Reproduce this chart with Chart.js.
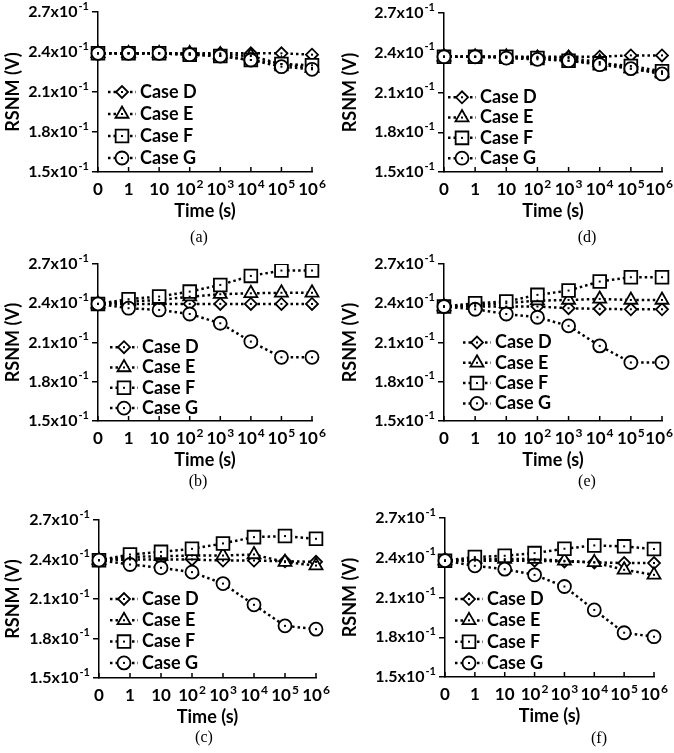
<!DOCTYPE html>
<html>
<head>
<meta charset="utf-8">
<script src="https://cdn.jsdelivr.net/npm/chart.js@4.4.0/dist/chart.umd.min.js"></script>
<style>
    body { margin: 0; background: #fff; }
    #wrap { position: relative; width: 674px; height: 753px; }
    .panel { position: absolute; width: 337px; height: 240px; }
    .cap { position: absolute; width: 60px; margin-left: -30px; text-align: center;
           font-family: "Liberation Serif", "Times New Roman", serif; font-size: 16px; line-height: 18px; }
</style>
</head>
<body>
<div id="wrap">
    <div class="panel" style="left:0;top:0"><canvas id="chartA"></canvas></div>
    <div class="panel" style="left:337px;top:0"><canvas id="chartD"></canvas></div>
    <div class="panel" style="left:0;top:240px"><canvas id="chartB"></canvas></div>
    <div class="panel" style="left:337px;top:240px"><canvas id="chartE"></canvas></div>
    <div class="panel" style="left:0;top:500px"><canvas id="chartC"></canvas></div>
    <div class="panel" style="left:337px;top:500px"><canvas id="chartF"></canvas></div>
    <div class="cap" style="left:199px;top:228px">(a)</div>
    <div class="cap" style="left:587px;top:228px">(d)</div>
    <div class="cap" style="left:198px;top:472px">(b)</div>
    <div class="cap" style="left:587px;top:472px">(e)</div>
    <div class="cap" style="left:204px;top:728px">(c)</div>
    <div class="cap" style="left:599px;top:729px">(f)</div>
</div>
<script>
// x categories (base^exponent) and y ticks
const timeLabels = ['0', '1', '10', '10^2', '10^3', '10^4', '10^5', '10^6'];
const yTicks = [0.15, 0.18, 0.21, 0.24, 0.27];
const caseNames = ['Case D', 'Case E', 'Case F', 'Case G'];

// RSNM (V)
const aD = [0.239, 0.239, 0.239, 0.239, 0.239, 0.239, 0.239, 0.238];
const aE = [0.239, 0.239, 0.239, 0.239, 0.238, 0.237, 0.231, 0.228];
const aF = [0.239, 0.239, 0.239, 0.238, 0.237, 0.234, 0.231, 0.230];
const aG = [0.239, 0.239, 0.239, 0.238, 0.237, 0.234, 0.229, 0.227];

const bD = [0.2395, 0.2395, 0.2395, 0.2395, 0.2395, 0.2395, 0.2395, 0.2395];
const bE = [0.2395, 0.2413, 0.2425, 0.245, 0.2469, 0.2476, 0.248, 0.248];
const bF = [0.2395, 0.2431, 0.2451, 0.2489, 0.254, 0.2609, 0.265, 0.265];
const bG = [0.2395, 0.2362, 0.2349, 0.2318, 0.2247, 0.2107, 0.1987, 0.1987];

const cD = [0.2395, 0.24, 0.24, 0.24, 0.2392, 0.2392, 0.2387, 0.2382];
const cE = [0.2395, 0.242, 0.2425, 0.243, 0.243, 0.2438, 0.238, 0.2354];
const cF = [0.2395, 0.2438, 0.2458, 0.2481, 0.2522, 0.257, 0.2578, 0.2557];
const cG = [0.2395, 0.2362, 0.2337, 0.2304, 0.2217, 0.2056, 0.1896, 0.1871];

const dD = [0.237, 0.237, 0.237, 0.237, 0.237, 0.237, 0.238, 0.238];
const dE = [0.237, 0.237, 0.237, 0.236, 0.236, 0.233, 0.228, 0.225];
const dF = [0.237, 0.237, 0.237, 0.236, 0.234, 0.232, 0.230, 0.226];
const dG = [0.237, 0.237, 0.236, 0.235, 0.234, 0.231, 0.228, 0.224];

const eD = [0.2375, 0.2375, 0.2375, 0.2375, 0.2362, 0.2357, 0.2354, 0.2354];
const eE = [0.2375, 0.2385, 0.24, 0.242, 0.2425, 0.2433, 0.2425, 0.2425];
const eF = [0.2375, 0.24, 0.2413, 0.2464, 0.2497, 0.2566, 0.2599, 0.2599];
const eG = [0.2375, 0.2354, 0.2318, 0.2293, 0.2227, 0.2074, 0.1947, 0.1947];

const fD = [0.2378, 0.2378, 0.2378, 0.2378, 0.2372, 0.2365, 0.236, 0.236];
const fE = [0.2378, 0.239, 0.239, 0.239, 0.2377, 0.2365, 0.2309, 0.2271];
const fF = [0.2378, 0.2405, 0.2415, 0.2435, 0.2468, 0.2493, 0.2486, 0.2466];
const fG = [0.2378, 0.2339, 0.2314, 0.2271, 0.2183, 0.2006, 0.1834, 0.1804];

const fontFam = 'Lato, "Open Sans", sans-serif';
const markers = [
    { style: 'rectRot', radius: 6 },
    { style: 'triangle', radius: 7.5 },
    { style: 'rect', radius: 9 },
    { style: 'circle', radius: 6.5 }
];

// base text plus a raised exponent; keeps the label inside the canvas
function drawSup(ctx, base, sup, x, y, align, size, supSize) {
    ctx.font = 'bold ' + size + 'px ' + fontFam;
    const wb = ctx.measureText(base).width;
    ctx.font = 'bold ' + supSize + 'px ' + fontFam;
    const ws = sup ? ctx.measureText(sup).width + 1 : 0;
    let sx = x;
    if (align === 'right') sx = x - wb - ws;
    if (align === 'center') sx = x - (wb + ws) / 2;
    const maxX = ctx.canvas.width - 1;
    if (sx + wb + ws > maxX) sx = maxX - wb - ws;
    ctx.textAlign = 'left';
    ctx.textBaseline = 'middle';
    ctx.font = 'bold ' + size + 'px ' + fontFam;
    ctx.fillText(base, sx, y);
    if (sup) {
        ctx.font = 'bold ' + supSize + 'px ' + fontFam;
        ctx.fillText(sup, sx + wb + 1, y - 6);
    }
}

const extras = {
    id: 'extras',
    afterDatasetsDraw(chart) {
        const ctx = chart.ctx;
        ctx.save();
        ctx.fillStyle = '#000';
        chart.data.datasets.forEach((ds, i) => {
            chart.getDatasetMeta(i).data.forEach(pt => {
                ctx.fillRect(pt.x - 1, pt.y - 1, 2, 2);
            });
        });
        ctx.restore();
    },
    afterDraw(chart, args, opts) {
        const ctx = chart.ctx;
        const xs = chart.scales.x, ys = chart.scales.y;
        const area = chart.chartArea;
        ctx.save();
        ctx.fillStyle = '#000';
        // y tick labels
        yTicks.forEach(v => {
            drawSup(ctx, (v * 10).toFixed(1) + 'x10', '-1', xs.left - 9, ys.getPixelForValue(v), 'right', 16, 11);
        });
        // x tick marks point inward, labels below
        ctx.strokeStyle = '#000';
        ctx.lineWidth = 1.5;
        timeLabels.forEach((lab, i) => {
            const px = xs.getPixelForTick(i);
            ctx.beginPath();
            ctx.moveTo(px, area.bottom);
            ctx.lineTo(px, area.bottom - 5);
            ctx.stroke();
            const parts = lab.split('^');
            drawSup(ctx, parts[0], parts[1], px, area.bottom + 18, 'center', 17, 12);
        });
        // legend inside the plot
        chart.data.datasets.forEach((ds, i) => {
            const lx = area.left + opts.legX;
            const ly = area.top + area.height * opts.legY + i * opts.legStep;
            ctx.strokeStyle = '#000';
            ctx.lineWidth = 2.5;
            ctx.setLineDash([2.5, 3]);
            ctx.beginPath();
            ctx.moveTo(lx, ly);
            ctx.lineTo(lx + 28, ly);
            ctx.stroke();
            ctx.setLineDash([]);
            ctx.fillStyle = '#fff';
            ctx.lineWidth = 1.8;
            Chart.helpers.drawPoint(ctx, { pointStyle: markers[i].style, radius: markers[i].radius, borderWidth: 1.8, rotation: 0 }, lx + 14, ly);
            ctx.fillStyle = '#000';
            ctx.fillRect(lx + 13, ly - 1, 2, 2);
            ctx.font = 'bold 18px ' + fontFam;
            ctx.textAlign = 'left';
            ctx.textBaseline = 'middle';
            ctx.fillText(ds.label, lx + 32, ly);
        });
        ctx.restore();
    }
};

function gerarPainel(id, series, box, leg) {
    const ctx = document.getElementById(id).getContext('2d');
    const canvasH = 240;
    const xAxisH = 50;
    const datasets = series.map((vals, i) => ({
        label: caseNames[i],
        data: vals,
        borderColor: '#000',
        borderWidth: 2.5,
        borderDash: [2.5, 3],
        pointStyle: markers[i].style,
        pointRadius: markers[i].radius,
        pointBackgroundColor: '#fff',
        pointBorderColor: '#000',
        pointBorderWidth: 1.8,
        tension: 0,
        fill: false,
        order: 4 - i
    }));

    return new Chart(ctx, {
        type: 'line',
        data: { labels: timeLabels, datasets: datasets },
        options: {
            responsive: false,
            animation: false,
            events: [],
            layout: {
                padding: {
                    left: 0,
                    top: box.top - box.oy,
                    right: box.ox + 337 - box.right,
                    bottom: canvasH - (box.bottom - box.oy) - xAxisH
                }
            },
            scales: {
                x: {
                    type: 'category',
                    offset: false,
                    afterFit: s => { s.height = xAxisH; },
                    border: { display: true, color: '#000', width: 1.5 },
                    grid: { display: false },
                    ticks: { display: false },
                    title: {
                        display: true,
                        text: 'Time (s)',
                        color: '#000',
                        font: { family: fontFam, size: 18, weight: 'bold' },
                        padding: { top: 0, bottom: 0 }
                    }
                },
                y: {
                    min: 0.15,
                    max: 0.27,
                    afterFit: s => { s.width = box.left - box.ox; },
                    afterBuildTicks: s => { s.ticks = yTicks.map(v => ({ value: v })); },
                    border: { display: true, color: '#000', width: 1.5 },
                    grid: { display: true, drawOnChartArea: false, drawTicks: true, tickLength: 6, color: '#000', lineWidth: 1.5 },
                    ticks: { display: false },
                    title: {
                        display: true,
                        text: 'RSNM (V)',
                        color: '#000',
                        font: { family: fontFam, size: 18, weight: 'bold' },
                        padding: { top: 2, bottom: 0 }
                    }
                }
            },
            plugins: {
                legend: { display: false },
                tooltip: { enabled: false },
                extras: leg
            }
        },
        plugins: [extras]
    });
}

document.querySelectorAll('canvas').forEach(c => { c.width = 337; c.height = 240; });

gerarPainel('chartA', [aD, aE, aF, aG], { ox: 0, oy: 0, left: 98, top: 12, right: 312, bottom: 172 }, { legX: 10, legY: 0.5, legStep: 22 });
gerarPainel('chartD', [dD, dE, dF, dG], { ox: 337, oy: 0, left: 444, top: 13, right: 662, bottom: 172 }, { legX: 4, legY: 0.53, legStep: 20.3 });
gerarPainel('chartB', [bD, bE, bF, bG], { ox: 0, oy: 240, left: 98, top: 264, right: 312, bottom: 421 }, { legX: 12, legY: 0.53, legStep: 20.3 });
gerarPainel('chartE', [eD, eE, eF, eG], { ox: 337, oy: 240, left: 444, top: 264, right: 662, bottom: 421 }, { legX: 19, legY: 0.5, legStep: 20.3 });
gerarPainel('chartC', [cD, cE, cF, cG], { ox: 0, oy: 500, left: 99, top: 520, right: 316, bottom: 678 }, { legX: 11, legY: 0.5, legStep: 21.3 });
gerarPainel('chartF', [fD, fE, fF, fG], { ox: 337, oy: 500, left: 445, top: 518, right: 654, bottom: 677 }, { legX: 10, legY: 0.51, legStep: 21.3 });
</script>
</body>
</html>
